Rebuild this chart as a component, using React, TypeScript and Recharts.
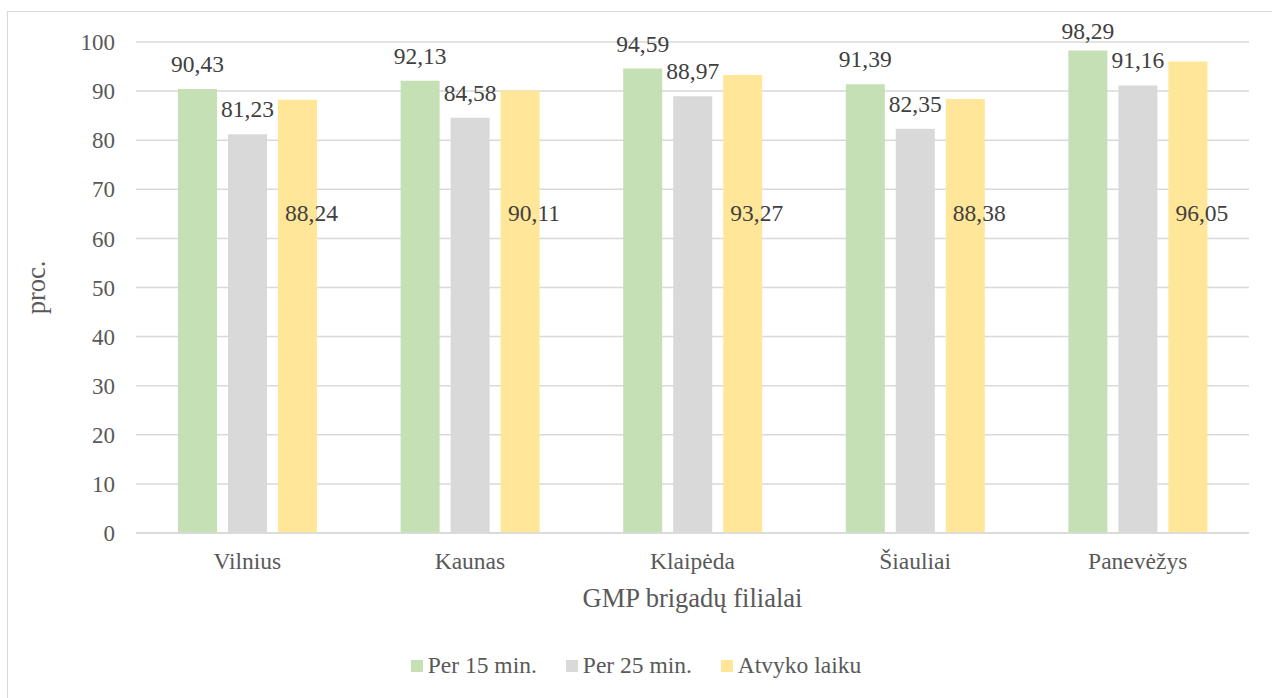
import { BarChart, Bar, XAxis, YAxis, CartesianGrid, Legend, LabelList } from "recharts";

const categories = ["Vilnius", "Kaunas", "Klaipėda", "Šiauliai", "Panevėžys"];
const per15 = [90.43, 92.13, 94.59, 91.39, 98.29];
const per25 = [81.23, 84.58, 88.97, 82.35, 91.16];
const onTime = [88.24, 90.11, 93.27, 88.38, 96.05];
const yTicks = [0, 10, 20, 30, 40, 50, 60, 70, 80, 90, 100];

const series = [
  { key: "per15", name: "Per 15 min.", color: "#C5E0B4" },
  { key: "per25", name: "Per 25 min.", color: "#D9D9D9" },
  { key: "onTime", name: "Atvyko laiku", color: "#FFE699" },
];

const data = categories.map((name, i) => ({
  name,
  per15: per15[i],
  per25: per25[i],
  onTime: onTime[i],
}));

const FONT = "Liberation Serif";
const TEXT = "#595959";
const fmt = (v: number) => v.toFixed(2).replace(".", ",");

// labels sitting above the bar
const TopLabel = (props: any) => {
  const { x, y, width, value } = props;
  const baseline = Math.max(y - 17, 39);
  return (
    <text x={x + width / 2} y={baseline} textAnchor="middle" style={{ fontFamily: FONT, fontSize: 23.5 }} fill="#404040">
      {fmt(value)}
    </text>
  );
};

// the "Atvyko laiku" labels sit at one level inside the bars
const InsideLabel = (props: any) => {
  const { x, y, width, height, value } = props;
  const bottom = y + height;
  return (
    <text x={x + width / 2 + 14} y={bottom - 312} textAnchor="middle" style={{ fontFamily: FONT, fontSize: 23.5 }} fill="#404040">
      {fmt(value)}
    </text>
  );
};

const renderLegend = () => (
  <div style={{ display: "flex", justifyContent: "center", alignItems: "center", fontFamily: FONT, fontSize: 23.5, color: TEXT }}>
    {series.map((s, i) => (
      <div key={s.key} style={{ display: "flex", alignItems: "center", marginLeft: i === 0 ? 0 : 29 }}>
        <span style={{ width: 12, height: 12, background: s.color, display: "inline-block", marginRight: 5 }} />
        <span>{s.name}</span>
      </div>
    ))}
  </div>
);

export default function App() {
  return (
    <div style={{ position: "absolute", left: 0, top: 0, width: 1272, height: 698, overflow: "hidden", background: "#fff", fontFamily: FONT }}>
      <div
        style={{
          position: "absolute",
          left: 7,
          top: 11,
          width: 1300,
          height: 760,
          border: "1.5px solid #D9D9D9",
        }}
      />
      <BarChart
        width={1272}
        height={698}
        data={data}
        margin={{ top: 42, right: 23, left: 0, bottom: 85 }}
        barSize={39}
        barGap={11}
        style={{ fontFamily: FONT }}
      >
        <CartesianGrid vertical={false} stroke="#D9D9D9" strokeWidth={1.5} />
        <XAxis
          dataKey="name"
          height={80}
          tickLine={false}
          tickMargin={13}
          axisLine={{ stroke: "#D9D9D9", strokeWidth: 1.5 }}
          tick={{ fontSize: 23.5, fill: TEXT, style: { fontFamily: FONT } }}
          label={{
            value: "GMP brigadų filialai",
            position: "insideBottom",
            offset: 6,
            style: { fontFamily: FONT, fontSize: 26.5, fill: TEXT },
          }}
        />
        <YAxis
          width={136}
          domain={[0, 100]}
          ticks={yTicks}
          interval={0}
          axisLine={false}
          tickLine={false}
          tickMargin={15}
          tick={{ fontSize: 23, fill: TEXT, style: { fontFamily: FONT } }}
          label={{
            value: "proc.",
            angle: -90,
            position: "center",
            dx: -32,
            style: { fontFamily: FONT, fontSize: 26.5, fill: TEXT },
          }}
        />
        <Legend
          layout="horizontal"
          verticalAlign="middle"
          align="center"
          content={renderLegend}
          wrapperStyle={{ top: 652, left: 0, width: 1272 }}
        />
        {series.map((s) => (
          <Bar key={s.key} dataKey={s.key} name={s.name} fill={s.color} isAnimationActive={false}>
            <LabelList dataKey={s.key} content={s.key === "onTime" ? InsideLabel : TopLabel} />
          </Bar>
        ))}
      </BarChart>
    </div>
  );
}
